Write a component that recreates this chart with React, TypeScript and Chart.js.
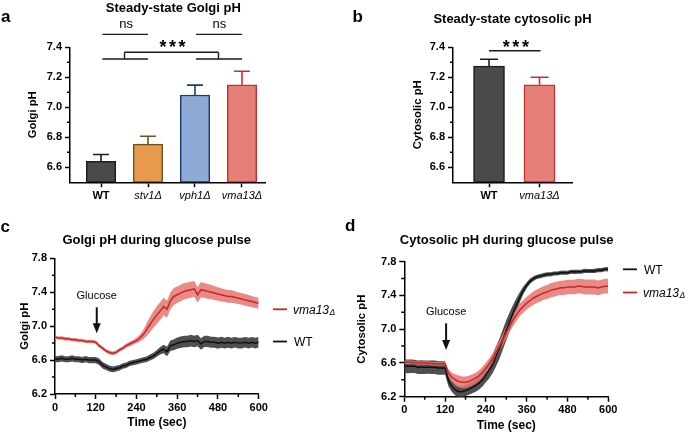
import React, { useEffect, useRef } from 'react';
import { Chart, registerables } from 'chart.js';

Chart.register(...registerables);

const FONT = "'Liberation Sans', Arial, Helvetica, sans-serif";
const W = 685;
const H = 434;

// ---------- Panel a: steady-state Golgi pH ----------
const GOLGI_STRAINS = ['WT', 'stv1Δ', 'vph1Δ', 'vma13Δ'];
const GOLGI_MEAN = [6.64, 6.755, 7.082, 7.15];
const GOLGI_SEM = [0.045, 0.052, 0.066, 0.09];

// ---------- Panel b: steady-state cytosolic pH ----------
const CYTO_STRAINS = ['WT', 'vma13Δ'];
const CYTO_MEAN = [7.275, 7.15];
const CYTO_SEM = [0.045, 0.05];

// ---------- Axis ticks ----------
const Y_TICKS_BAR = [6.6, 6.8, 7.0, 7.2, 7.4];
const Y_MINOR_BAR = [6.7, 6.9, 7.1, 7.3];
const Y_TICKS_PULSE = [6.2, 6.6, 7.0, 7.4, 7.8];
const Y_MINOR_PULSE = [6.4, 6.8, 7.2, 7.6];
const X_TICKS_PULSE = [0, 120, 240, 360, 480, 600];
const X_MINOR_PULSE = [60, 180, 300, 420, 540];

// ---------- Time course (sec) ----------
const TIME = [
  0, 10, 20, 30, 40, 50, 60, 70, 80, 90, 100, 110, 120, 130, 140, 150, 160, 170, 180, 190,
  200, 210, 220, 230, 240, 250, 260, 270, 280, 290, 300, 310, 320, 330, 340, 350, 360, 370, 380, 390,
  400, 410, 420, 430, 440, 450, 460, 470, 480, 490, 500, 510, 520, 530, 540, 550, 560, 570, 580, 590, 600,
];

// Panel c: Golgi pH during glucose pulse
const GOLGI_VMA = [
  6.87, 6.86, 6.86, 6.85, 6.85, 6.84, 6.84, 6.83, 6.83, 6.82, 6.82, 6.82, 6.81, 6.77, 6.74, 6.71, 6.69, 6.68, 6.69, 6.72,
  6.74, 6.77, 6.79, 6.81, 6.83, 6.86, 6.90, 6.96, 7.02, 7.08, 7.13, 7.18, 7.23, 7.20, 7.30, 7.35, 7.37, 7.39, 7.41, 7.42,
  7.43, 7.44, 7.37, 7.43, 7.42, 7.41, 7.40, 7.39, 7.38, 7.37, 7.36, 7.35, 7.35, 7.34, 7.33, 7.32, 7.31, 7.30, 7.29, 7.28, 7.27,
];
const GOLGI_VMA_SEM = [
  0.02, 0.019, 0.02, 0.021, 0.02, 0.019, 0.02, 0.021, 0.02, 0.02, 0.021, 0.02, 0.021,
  0.022, 0.022, 0.022, 0.023, 0.022, 0.022, 0.023, 0.024, 0.025, 0.026, 0.028, 0.032,
  0.04, 0.055, 0.075, 0.09, 0.1, 0.105, 0.105, 0.105, 0.1, 0.1,
  0.1, 0.098, 0.097, 0.095, 0.095, 0.094, 0.093, 0.092, 0.09, 0.088, 0.086,
  0.084, 0.082, 0.08, 0.078, 0.076, 0.075, 0.073, 0.072, 0.07, 0.069, 0.068, 0.067, 0.066, 0.065, 0.065,
];
const GOLGI_WT = [
  6.61, 6.61, 6.62, 6.61, 6.61, 6.62, 6.61, 6.61, 6.60, 6.61, 6.60, 6.60, 6.60, 6.58, 6.54, 6.52, 6.50, 6.49, 6.50, 6.51,
  6.53, 6.54, 6.56, 6.57, 6.58, 6.59, 6.60, 6.61, 6.63, 6.65, 6.68, 6.71, 6.73, 6.70, 6.77, 6.78, 6.80, 6.81, 6.82, 6.82,
  6.83, 6.82, 6.83, 6.79, 6.82, 6.82, 6.81, 6.81, 6.80, 6.81, 6.80, 6.81, 6.80, 6.81, 6.80, 6.80, 6.81, 6.80, 6.81, 6.80, 6.81,
];
const GOLGI_WT_SEM = [
  0.036, 0.037, 0.036, 0.035, 0.036, 0.037, 0.036, 0.035, 0.036, 0.037, 0.036, 0.036, 0.037,
  0.038, 0.038, 0.037, 0.036, 0.035, 0.034, 0.033, 0.032, 0.032, 0.031, 0.031, 0.031,
  0.031, 0.032, 0.033, 0.035, 0.037, 0.04, 0.045, 0.05, 0.056, 0.062,
  0.065, 0.066, 0.068, 0.068, 0.068, 0.069, 0.068, 0.068, 0.068, 0.067, 0.067,
  0.066, 0.066, 0.065, 0.065, 0.064, 0.064, 0.064, 0.063, 0.063, 0.063, 0.063, 0.063, 0.063, 0.063, 0.063,
];

// Panel d: cytosolic pH during glucose pulse
const CYTO_WT_T = [
  6.56, 6.56, 6.56, 6.56, 6.55, 6.55, 6.55, 6.55, 6.55, 6.55, 6.54, 6.54, 6.54, 6.39, 6.32, 6.28, 6.26, 6.26, 6.27, 6.29,
  6.31, 6.33, 6.36, 6.40, 6.46, 6.52, 6.59, 6.68, 6.77, 6.88, 6.99, 7.09, 7.19, 7.29, 7.38, 7.46, 7.52, 7.57, 7.60, 7.62,
  7.63, 7.64, 7.65, 7.65, 7.66, 7.66, 7.67, 7.67, 7.67, 7.68, 7.68, 7.68, 7.68, 7.69, 7.69, 7.69, 7.69, 7.70, 7.70, 7.71, 7.71,
];
const CYTO_WT_SEM = [
  0.08, 0.081, 0.08, 0.079, 0.08, 0.081, 0.08, 0.079, 0.08, 0.08, 0.081, 0.08, 0.08,
  0.07, 0.065, 0.065, 0.065, 0.065, 0.065, 0.066, 0.068, 0.07, 0.075, 0.08, 0.09,
  0.1, 0.11, 0.12, 0.12, 0.12, 0.12, 0.11, 0.1, 0.08, 0.06,
  0.045, 0.035, 0.03, 0.028, 0.026, 0.025, 0.025, 0.024, 0.024, 0.024, 0.024,
  0.024, 0.025, 0.024, 0.024, 0.025, 0.024, 0.024, 0.025, 0.024, 0.024, 0.025, 0.024, 0.025, 0.024, 0.026,
];
const CYTO_VMA_T = [
  6.61, 6.61, 6.61, 6.60, 6.60, 6.60, 6.60, 6.60, 6.59, 6.59, 6.59, 6.59, 6.59, 6.48, 6.43, 6.40, 6.38, 6.37, 6.37, 6.38,
  6.40, 6.42, 6.45, 6.49, 6.54, 6.59, 6.65, 6.73, 6.80, 6.88, 6.96, 7.04, 7.11, 7.17, 7.23, 7.27, 7.31, 7.34, 7.37, 7.39,
  7.41, 7.43, 7.44, 7.46, 7.47, 7.48, 7.49, 7.49, 7.50, 7.50, 7.50, 7.51, 7.51, 7.50, 7.50, 7.50, 7.50, 7.49, 7.50, 7.51, 7.51,
];
const CYTO_VMA_SEM = [
  0.02, 0.021, 0.02, 0.019, 0.02, 0.021, 0.02, 0.019, 0.02, 0.02, 0.021, 0.02, 0.02,
  0.045, 0.055, 0.065, 0.07, 0.07, 0.07, 0.068, 0.066, 0.065, 0.064, 0.064, 0.064,
  0.065, 0.066, 0.067, 0.068, 0.07, 0.07, 0.07, 0.071, 0.072, 0.074,
  0.075, 0.076, 0.078, 0.08, 0.08, 0.082, 0.082, 0.083, 0.084, 0.085, 0.085,
  0.085, 0.086, 0.086, 0.086, 0.087, 0.087, 0.087, 0.088, 0.088, 0.088, 0.088, 0.088, 0.087, 0.087, 0.087,
];

// ---------- Styles ----------
const GOLGI_FILLS = ['#4a4a4a', '#e89a4d', '#8eaad6', '#e67f78'];
const GOLGI_BORDERS = ['#1c1c1c', '#6e5426', '#1f3b6e', '#c2312d'];
const CYTO_FILLS = ['#4a4a4a', '#e67f78'];
const CYTO_BORDERS = ['#1c1c1c', '#c2312d'];
const WT_LINE = '#111111';
const WT_BAND = '#4f4f4f';
const VMA_LINE = '#c3282a';
const VMA_BAND = 'rgba(230, 118, 112, 0.85)';

type Box = { left: number; top: number; right: number; bottom: number; wy: number; hx: number };

const BOX_A: Box = { left: 70, top: 47.3, right: 265, bottom: 182.3, wy: 43.6, hx: 30 };
const BOX_B: Box = { left: 453, top: 47.3, right: 572, bottom: 182.3, wy: 41.6, hx: 30 };
const BOX_C: Box = { left: 55, top: 258.3, right: 258.7, bottom: 394, wy: 36.6, hx: 36.2 };
const BOX_D: Box = { left: 404.3, top: 261.7, right: 608.3, bottom: 396.7, wy: 49.2, hx: 35.9 };

function pad(b: Box) {
  return { left: b.left - b.wy, top: b.top, right: W - b.right, bottom: H - b.bottom - b.hx };
}

function f(size: number, weight = 'normal', style = 'normal') {
  return `${style} ${weight} ${size}px ${FONT}`;
}

function text(ctx: CanvasRenderingContext2D, s: string, x: number, y: number, font: string, align: CanvasTextAlign = 'center', baseline: CanvasTextBaseline = 'alphabetic') {
  ctx.save();
  ctx.font = font;
  ctx.fillStyle = '#000';
  ctx.textAlign = align;
  ctx.textBaseline = baseline;
  ctx.fillText(s, x, y);
  ctx.restore();
}

function stars(ctx: CanvasRenderingContext2D, cx: number, cy: number) {
  ctx.save();
  ctx.font = f(18, 'bold');
  ctx.fillStyle = '#000';
  ctx.textAlign = 'left';
  ctx.textBaseline = 'alphabetic';
  const spacing = 2.6;
  (ctx as any).letterSpacing = spacing + 'px';
  const w = ctx.measureText('***').width - spacing;
  ctx.fillText('***', cx - w / 2, cy + 10.3);
  ctx.restore();
}

function lines(ctx: CanvasRenderingContext2D, segs: number[][], color = '#1a1a1a', width = 1.4) {
  ctx.save();
  ctx.strokeStyle = color;
  ctx.lineWidth = width;
  ctx.beginPath();
  segs.forEach(([x1, y1, x2, y2]) => {
    ctx.moveTo(x1, y1);
    ctx.lineTo(x2, y2);
  });
  ctx.stroke();
  ctx.restore();
}

function minorTicks(chart: any, xs: number[], ys: number[]) {
  const { ctx, chartArea, scales } = chart;
  const segs: number[][] = [];
  ys.forEach((v) => {
    const y = scales.y.getPixelForValue(v);
    segs.push([chartArea.left, y, chartArea.left - 3, y]);
  });
  xs.forEach((v) => {
    const x = scales.x.getPixelForValue(v);
    segs.push([x, chartArea.bottom, x, chartArea.bottom + 3]);
  });
  lines(ctx, segs, '#000', 1.5);
}

function arrow(ctx: CanvasRenderingContext2D, x: number, y1: number, y2: number) {
  ctx.save();
  ctx.strokeStyle = '#111';
  ctx.fillStyle = '#111';
  ctx.lineWidth = 2;
  ctx.beginPath();
  ctx.moveTo(x, y1);
  ctx.lineTo(x, y2 - 8);
  ctx.stroke();
  ctx.beginPath();
  ctx.moveTo(x - 4, y2 - 10);
  ctx.lineTo(x + 4, y2 - 10);
  ctx.lineTo(x, y2);
  ctx.closePath();
  ctx.fill();
  ctx.restore();
}

function legendItem(ctx: CanvasRenderingContext2D, x: number, y: number, color: string, label: string, italic: boolean) {
  lines(ctx, [[x, y, x + 14, y]], color, 1.8);
  if (italic) {
    const base = label.replace('Δ', '');
    ctx.save();
    ctx.font = f(12, 'normal', 'italic');
    const w = ctx.measureText(base).width;
    ctx.restore();
    text(ctx, base, x + 20, y + 4.3, f(12, 'normal', 'italic'), 'left');
    text(ctx, 'Δ', x + 20 + w + 0.5, y + 5.5, f(8.5, 'normal', 'italic'), 'left');
  } else {
    text(ctx, label, x + 21, y + 4.3, f(12), 'left');
  }
}

function axisFont(size = 11, style = 'normal') {
  return { family: FONT, size, weight: 'bold' as const, style: style as any };
}

function barChart(o: {
  labels: string[];
  mean: number[];
  sem: number[];
  fills: string[];
  borders: string[];
  box: Box;
  xMin: number;
  xMax: number;
  barW: number;
  capW: number;
  yTitle: string;
  overlay: (chart: any) => void;
}) {
  const box = o.box;
  const errorBars = {
    id: 'errorBars',
    afterDatasetsDraw(chart: any) {
      const meta = chart.getDatasetMeta(0);
      const ys = chart.scales.y;
      const ctx = chart.ctx;
      meta.data.forEach((el: any, i: number) => {
        const top = ys.getPixelForValue(o.mean[i] + o.sem[i]);
        lines(ctx, [
          [el.x, el.y, el.x, top],
          [el.x - o.capW / 2, top, el.x + o.capW / 2, top],
        ], o.borders[i], 1.6);
      });
    },
  };
  return {
    type: 'bar',
    data: {
      datasets: [
        {
          data: o.mean.map((m, i) => ({ x: i, y: m })),
          backgroundColor: o.fills,
          borderColor: o.borders,
          borderWidth: 1.5,
          borderSkipped: false,
          barThickness: o.barW,
          base: 6.5,
        },
      ],
    },
    options: {
      responsive: false,
      animation: false,
      devicePixelRatio: 1,
      layout: { padding: pad(box) },
      plugins: { legend: { display: false }, tooltip: { enabled: false }, title: { display: false } },
      scales: {
        x: {
          type: 'linear',
          min: o.xMin,
          max: o.xMax,
          offset: false,
          afterBuildTicks: (s: any) => {
            s.ticks = o.labels.map((_, i) => ({ value: i }));
          },
          afterFit: (s: any) => {
            s.height = box.hx;
          },
          ticks: {
            autoSkip: false,
            maxRotation: 0,
            minRotation: 0,
            padding: 2,
            color: '#000',
            callback: (_v: any, i: number) => o.labels[i],
            font: (c: any) =>
              c.index === 0
                ? { family: FONT, size: 11, weight: 'bold' }
                : { family: FONT, size: 11, weight: 'normal', style: 'italic' },
          },
          grid: { display: true, offset: false, drawOnChartArea: false, tickLength: 5, tickWidth: 1.5, tickColor: '#000' },
          border: { display: true, color: '#000', width: 1.5 },
        },
        y: {
          min: 6.5,
          max: 7.4,
          afterBuildTicks: (s: any) => {
            s.ticks = Y_TICKS_BAR.map((v) => ({ value: v }));
          },
          afterFit: (s: any) => {
            s.width = box.wy;
          },
          ticks: { color: '#000', padding: 3, font: axisFont(11), callback: (v: any) => Number(v).toFixed(1) },
          grid: { display: true, drawOnChartArea: false, tickLength: 5, tickWidth: 1.5, tickColor: '#000' },
          border: { display: true, color: '#000', width: 1.5 },
          title: { display: true, text: o.yTitle, color: '#000', font: axisFont(11.3), padding: 0 },
        },
      },
    },
    plugins: [
      errorBars,
      {
        id: 'overlay',
        afterDraw(chart: any) {
          minorTicks(chart, [], Y_MINOR_BAR);
          o.overlay(chart);
        },
      },
    ],
  };
}

function lineChart(o: {
  box: Box;
  yTitle: string;
  wt: number[];
  wtSem: number[];
  vma: number[];
  vmaSem: number[];
  overlay: (chart: any) => void;
}) {
  const box = o.box;
  const pts = (m: number[], s: number[], k: number) => TIME.map((t, i) => ({ x: t, y: m[i] + k * s[i] }));
  const bound = { borderColor: 'rgba(0,0,0,0)', borderWidth: 0, pointRadius: 0 };
  return {
    type: 'line',
    data: {
      datasets: [
        { ...bound, data: pts(o.wt, o.wtSem, 1), fill: false, order: 4 },
        { ...bound, data: pts(o.wt, o.wtSem, -1), fill: '-1', backgroundColor: WT_BAND, order: 4 },
        { ...bound, data: pts(o.vma, o.vmaSem, 1), fill: false, order: 3 },
        { ...bound, data: pts(o.vma, o.vmaSem, -1), fill: '-1', backgroundColor: VMA_BAND, order: 3 },
        { data: pts(o.wt, o.wtSem, 0), borderColor: WT_LINE, borderWidth: 1.5, pointRadius: 0, fill: false, order: 2 },
        { data: pts(o.vma, o.vmaSem, 0), borderColor: VMA_LINE, borderWidth: 1.5, pointRadius: 0, fill: false, order: 1 },
      ],
    },
    options: {
      responsive: false,
      animation: false,
      devicePixelRatio: 1,
      layout: { padding: pad(box) },
      plugins: { legend: { display: false }, tooltip: { enabled: false }, title: { display: false } },
      elements: { line: { tension: 0 } },
      scales: {
        x: {
          type: 'linear',
          min: 0,
          max: 600,
          offset: false,
          afterBuildTicks: (s: any) => {
            s.ticks = X_TICKS_PULSE.map((v) => ({ value: v }));
          },
          afterFit: (s: any) => {
            s.height = box.hx;
          },
          ticks: { color: '#000', padding: 2, maxRotation: 0, autoSkip: false, font: axisFont(11) },
          grid: { display: true, offset: false, drawOnChartArea: false, tickLength: 5, tickWidth: 1.5, tickColor: '#000' },
          border: { display: true, color: '#000', width: 1.5 },
          title: { display: true, text: 'Time (sec)', color: '#000', font: axisFont(12), padding: 0 },
        },
        y: {
          min: 6.2,
          max: 7.8,
          afterBuildTicks: (s: any) => {
            s.ticks = Y_TICKS_PULSE.map((v) => ({ value: v }));
          },
          afterFit: (s: any) => {
            s.width = box.wy;
          },
          ticks: { color: '#000', padding: 3, font: axisFont(11), callback: (v: any) => Number(v).toFixed(1) },
          grid: { display: true, drawOnChartArea: false, tickLength: 5, tickWidth: 1.5, tickColor: '#000' },
          border: { display: true, color: '#000', width: 1.5 },
          title: { display: true, text: o.yTitle, color: '#000', font: axisFont(11.3), padding: 0 },
        },
      },
    },
    plugins: [
      {
        id: 'overlay',
        afterDraw(chart: any) {
          minorTicks(chart, X_MINOR_PULSE, Y_MINOR_PULSE);
          o.overlay(chart);
        },
      },
    ],
  };
}

const configA = () =>
  barChart({
    labels: GOLGI_STRAINS,
    mean: GOLGI_MEAN,
    sem: GOLGI_SEM,
    fills: GOLGI_FILLS,
    borders: GOLGI_BORDERS,
    box: BOX_A,
    xMin: -0.66,
    xMax: 3.49,
    barW: 29.5,
    capW: 16,
    yTitle: 'Golgi pH',
    overlay: (chart) => {
      const { ctx, scales } = chart;
      const x = (v: number) => scales.x.getPixelForValue(v);
      const y = (v: number) => scales.y.getPixelForValue(v);
      text(ctx, 'a', 1, 21.7, f(17, 'bold'), 'left');
      text(ctx, 'Steady-state Golgi pH', 173.3, 11.7, f(13, 'bold'));
      // ns comparisons
      const yNs = y(7.486);
      lines(ctx, [
        [x(0.03), yNs, x(1.0), yNs],
        [x(2.02), yNs, x(3.0), yNs],
      ]);
      text(ctx, 'ns', (x(0.03) + x(1.0)) / 2 + 1, yNs - 6.2, f(13));
      text(ctx, 'ns', (x(2.02) + x(3.0)) / 2 + 0.5, yNs - 6.2, f(13));
      // grouped comparison bracket
      const yLo = y(7.322);
      const yHi = y(7.367);
      lines(ctx, [
        [x(0.03), yLo, x(1.0), yLo],
        [x(2.02), yLo, x(3.0), yLo],
        [x(0.5), yLo, x(0.5), yHi],
        [x(2.5), yLo, x(2.5), yHi],
        [x(0.5), yHi, x(2.5), yHi],
      ]);
      stars(ctx, 172.5, y(7.431));
    },
  });

const configB = () =>
  barChart({
    labels: CYTO_STRAINS,
    mean: CYTO_MEAN,
    sem: CYTO_SEM,
    fills: CYTO_FILLS,
    borders: CYTO_BORDERS,
    box: BOX_B,
    xMin: -0.713,
    xMax: 1.643,
    barW: 31,
    capW: 18,
    yTitle: 'Cytosolic pH',
    overlay: (chart) => {
      const { ctx, scales } = chart;
      const x = (v: number) => scales.x.getPixelForValue(v);
      const y = (v: number) => scales.y.getPixelForValue(v);
      text(ctx, 'b', 352.5, 21.7, f(17, 'bold'), 'left');
      text(ctx, 'Steady-state cytosolic pH', 512.5, 22.6, f(13, 'bold'));
      const yL = y(7.377);
      lines(ctx, [[x(0), yL, x(1.02), yL]]);
      stars(ctx, (x(0) + x(1.02)) / 2 + 1, y(7.434));
    },
  });

const configC = () =>
  lineChart({
    box: BOX_C,
    yTitle: 'Golgi pH',
    wt: GOLGI_WT,
    wtSem: GOLGI_WT_SEM,
    vma: GOLGI_VMA,
    vmaSem: GOLGI_VMA_SEM,
    overlay: (chart) => {
      const { ctx, scales } = chart;
      const x = (v: number) => scales.x.getPixelForValue(v);
      const y = (v: number) => scales.y.getPixelForValue(v);
      text(ctx, 'c', 0.5, 231.5, f(17, 'bold'), 'left');
      text(ctx, 'Golgi pH during glucose pulse', 156.7, 244.3, f(13, 'bold'));
      text(ctx, 'Glucose', x(120) + 1, y(7.355), f(11), 'center', 'middle');
      arrow(ctx, x(120) + 1, y(7.222), y(6.916));
      legendItem(ctx, 273, 309.3, VMA_LINE, 'vma13Δ', true);
      legendItem(ctx, 273, 341.5, WT_LINE, 'WT', false);
    },
  });

const configD = () =>
  lineChart({
    box: BOX_D,
    yTitle: 'Cytosolic pH',
    wt: CYTO_WT_T,
    wtSem: CYTO_WT_SEM,
    vma: CYTO_VMA_T,
    vmaSem: CYTO_VMA_SEM,
    overlay: (chart) => {
      const { ctx, scales } = chart;
      const x = (v: number) => scales.x.getPixelForValue(v);
      const y = (v: number) => scales.y.getPixelForValue(v);
      text(ctx, 'd', 345, 231, f(17, 'bold'), 'left');
      text(ctx, 'Cytosolic pH during glucose pulse', 506.7, 244.3, f(13, 'bold'));
      text(ctx, 'Glucose', x(120) + 1, y(7.208), f(11), 'center', 'middle');
      arrow(ctx, x(120) + 1, y(7.07), y(6.754));
      legendItem(ctx, 623, 269.3, WT_LINE, 'WT', false);
      legendItem(ctx, 623, 292.5, VMA_LINE, 'vma13Δ', true);
    },
  });

function ChartCanvas({ make }: { make: () => any }) {
  const ref = useRef<HTMLCanvasElement>(null);
  useEffect(() => {
    const chart = new Chart(ref.current as HTMLCanvasElement, make());
    return () => chart.destroy();
  }, []);
  return (
    <canvas
      ref={ref}
      width={W}
      height={H}
      style={{ position: 'absolute', left: 0, top: 0, width: W, height: H }}
    />
  );
}

export default function App() {
  return (
    <div style={{ position: 'fixed', left: 0, top: 0, width: W, height: H, background: '#fff', overflow: 'hidden' }}>
      <ChartCanvas make={configA} />
      <ChartCanvas make={configB} />
      <ChartCanvas make={configC} />
      <ChartCanvas make={configD} />
    </div>
  );
}
